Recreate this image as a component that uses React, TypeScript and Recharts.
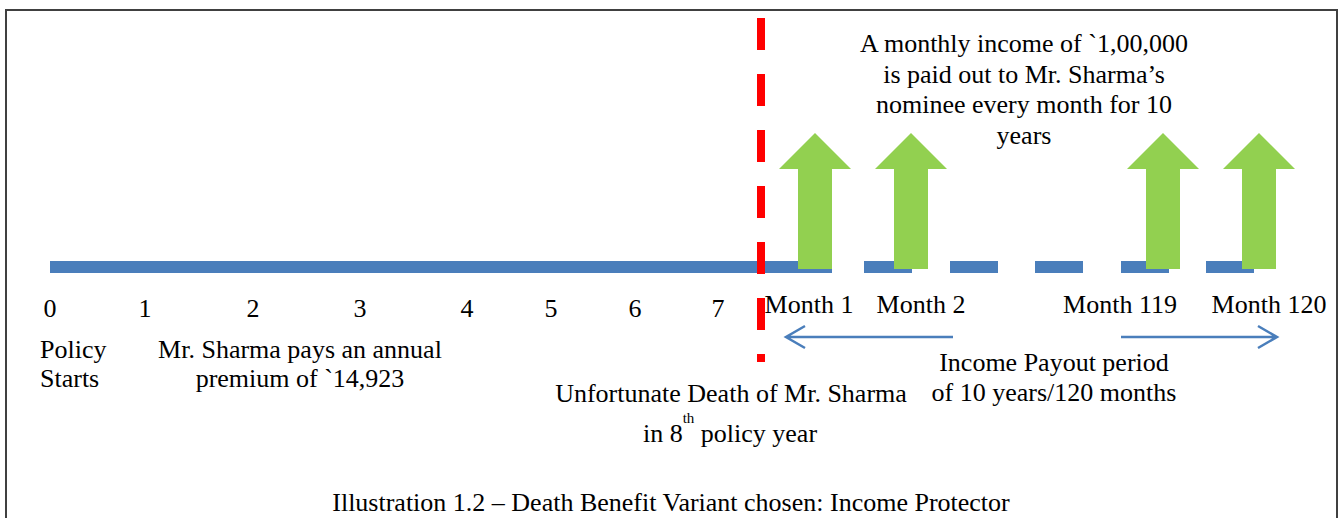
import { ComposedChart, XAxis, YAxis, Line, Scatter } from 'recharts'

const W = 1341
const H = 518
const FONT = "'Liberation Serif', 'Times New Roman', serif"
const BLUE = '#4A7EBB'
const GREEN = '#92D050'

// policy years along the premium part of the timeline
const years = ['0', '1', '2', '3', '4', '5', '6', '7']
const yearX = [50, 145, 253, 360, 467, 551, 635, 718]

// payout months
const months = ['Month 1', 'Month 2', 'Month 119', 'Month 120']
const monthX = [809, 921, 1120, 1269]
const payoutX = [815, 911, 1163, 1259]

// timeline: solid while premiums are paid, dashed during payout
const timelineY = 267
const premiumSpan = [50, 779]
const payoutDashes = [
  [779, 832],
  [864, 912],
  [950, 998],
  [1035, 1083],
  [1121, 1169],
  [1206, 1254],
]

// death in the 8th policy year
const deathX = 761
const deathSpan = [18, 362]

// income payout period arrow (left part, right part)
const periodY = 337
const periodLeft = [786, 953]
const periodRight = [1121, 1277]

const payoutNote = [
  'A monthly income of `1,00,000',
  'is paid out to Mr. Sharma’s',
  'nominee every month for 10',
  'years',
]
const premiumNote = ['Mr. Sharma pays an annual', 'premium of `14,923']
const startNote = ['Policy', 'Starts']
const periodNote = ['Income Payout period', 'of 10 years/120 months']
const caption = 'Illustration 1.2 – Death Benefit Variant chosen: Income Protector'

type Lbl = { x: number; y: number; text: string; anchor?: string; sup?: [string, string, string] }

const labels: Lbl[] = [
  ...years.map((t, i) => ({ x: yearX[i], y: 317, text: t })),
  ...months.map((t, i) => ({ x: monthX[i], y: 313, text: t })),
  ...payoutNote.map((t, i) => ({ x: 1024, y: 52 + i * 30.5, text: t })),
  ...startNote.map((t, i) => ({ x: 40, y: 358 + i * 29, text: t, anchor: 'start' })),
  ...premiumNote.map((t, i) => ({ x: 300, y: 358 + i * 29, text: t })),
  ...periodNote.map((t, i) => ({ x: 1054, y: 371 + i * 30, text: t })),
  { x: 731, y: 402, text: 'Unfortunate Death of Mr. Sharma' },
  { x: 730, y: 442, text: '', sup: ['in 8', 'th', ' policy year'] },
  { x: 671, y: 511, text: caption },
]

const timelineData = [
  { x: premiumSpan[0], y: timelineY },
  { x: premiumSpan[1], y: timelineY },
  { x: premiumSpan[1], y: null },
  ...payoutDashes.flatMap(([a, b]) => [
    { x: a, y: timelineY },
    { x: b, y: timelineY },
    { x: b, y: null },
  ]),
]

const periodData = [
  { x: periodLeft[0] + 19, y: periodY - 11 },
  { x: periodLeft[0], y: periodY },
  { x: periodLeft[0] + 19, y: periodY + 11 },
  { x: periodLeft[0] + 19, y: null },
  { x: periodLeft[0], y: periodY },
  { x: periodLeft[1], y: periodY },
  { x: periodLeft[1], y: null },
  { x: periodRight[0], y: periodY },
  { x: periodRight[1], y: periodY },
  { x: periodRight[1], y: null },
  { x: periodRight[1] - 19, y: periodY - 11 },
  { x: periodRight[1], y: periodY },
  { x: periodRight[1] - 19, y: periodY + 11 },
]

const frameData = [
  { x: 6, y: H },
  { x: 6, y: 10 },
  { x: 1337, y: 10 },
  { x: 1337, y: H },
]

const deathData = [
  { x: deathX, y: deathSpan[0] },
  { x: deathX, y: deathSpan[1] },
]

const arrowData = payoutX.map(x => ({ x, y: 269 }))

function GreenArrow(props: any) {
  const { cx, cy } = props
  const top = cy - 136
  const neck = cy - 100
  const pts = [
    [cx, top],
    [cx + 36, neck],
    [cx + 17, neck],
    [cx + 17, cy],
    [cx - 17, cy],
    [cx - 17, neck],
    [cx - 36, neck],
  ]
  return <polygon points={pts.map(p => p.join(',')).join(' ')} fill={GREEN} />
}

function TextShape(props: any) {
  const { cx, cy, payload } = props
  const d = payload as Lbl
  return (
    <text
      x={cx}
      y={cy}
      textAnchor={d.anchor ?? 'middle'}
      fontFamily={FONT}
      fontSize={26}
      fill="#000"
    >
      {d.sup ? (
        <>
          <tspan>{d.sup[0]}</tspan>
          <tspan dy={-19} fontSize={15}>{d.sup[1]}</tspan>
          <tspan dy={19}>{d.sup[2]}</tspan>
        </>
      ) : (
        d.text
      )}
    </text>
  )
}

export default function App() {
  return (
    <div style={{ position: 'absolute', left: 0, top: 0, width: W, height: H, background: '#fff' }}>
      <ComposedChart width={W} height={H} margin={{ top: 0, right: 0, bottom: 0, left: 0 }}>
        <XAxis type="number" dataKey="x" domain={[0, W]} allowDataOverflow hide />
        <YAxis type="number" dataKey="y" domain={[0, H]} reversed allowDataOverflow hide />
        <Line
          data={frameData}
          dataKey="y"
          stroke="#404040"
          strokeWidth={2}
          dot={false}
          activeDot={false}
          isAnimationActive={false}
        />
        <Line
          data={timelineData}
          dataKey="y"
          stroke={BLUE}
          strokeWidth={12}
          dot={false}
          activeDot={false}
          isAnimationActive={false}
        />
        <Line
          data={periodData}
          dataKey="y"
          stroke={BLUE}
          strokeWidth={2.5}
          dot={false}
          activeDot={false}
          isAnimationActive={false}
        />
        <Scatter data={arrowData} dataKey="y" shape={<GreenArrow />} isAnimationActive={false} />
        <Line
          data={deathData}
          dataKey="y"
          stroke="#FF0000"
          strokeWidth={8}
          strokeDasharray="32 24"
          dot={false}
          activeDot={false}
          isAnimationActive={false}
        />
        <Scatter data={labels} dataKey="y" shape={<TextShape />} isAnimationActive={false} />
      </ComposedChart>
    </div>
  )
}
